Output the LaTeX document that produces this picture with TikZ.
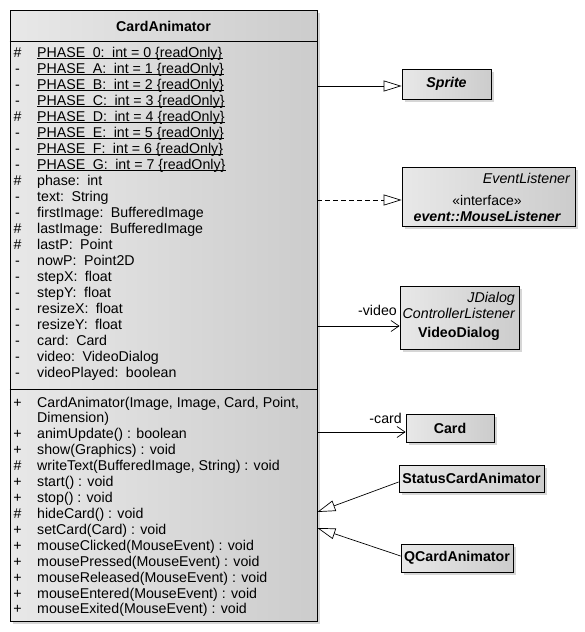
\documentclass[tikz,border=0pt]{standalone}
\usepackage{fontspec}
\setmainfont{Liberation Sans}
\usetikzlibrary{arrows.meta,shadows,calc}
\definecolor{boxL}{RGB}{232,232,232}
\definecolor{boxR}{RGB}{204,204,204}
\newcommand\sgap{\hspace{7.5pt}}
\begin{document}
\begin{tikzpicture}[x=1pt,y=-1pt,
  font=\fontsize{14.2}{16}\selectfont,
  txt/.style={inner sep=0pt, anchor=base west},
  vis/.style={inner sep=0pt, anchor=base},
  box/.style={draw=black, line width=0.8pt, left color=boxL, right color=boxR,
    drop shadow={shadow xshift=3pt, shadow yshift=-3pt, fill=black!16, opacity=1},
    inner sep=0pt},
  gen/.style={-{Triangle[open,length=18pt,width=11pt]}, line width=0.7pt},
  real/.style={gen, dashed, dash pattern=on 5pt off 3pt},
  assoc/.style={-{Straight Barb[length=8pt,width=11pt]}, line width=0.7pt},
  lbl/.style={inner sep=0pt, font=\fontsize{14.2}{16}\selectfont},
]
\useasboundingbox (0,0) rectangle (585,632);
% main class
\node[box, minimum width=307pt, minimum height=611pt] (main) at (163.5,315.5) {};
\coordinate (h1) at (0,41);
\coordinate (h2) at (0,389);
\draw[line width=0.8pt] (main.west |- h1) -- (main.east |- h1);
\draw[line width=0.8pt] (main.west |- h2) -- (main.east |- h2);
\node[inner sep=0pt, anchor=base, font=\fontsize{14.2}{16}\selectfont\bfseries] (title) at (163.5,31) {CardAnimator};
% attributes
\foreach \s/\t [count=\i from 0] in {
  {\#}/{PHASE\sgap 0:\sgap int = 0 \{readOnly\}},
  {-}/{PHASE\sgap A:\sgap int = 1 \{readOnly\}},
  {-}/{PHASE\sgap B:\sgap int = 2 \{readOnly\}},
  {-}/{PHASE\sgap C:\sgap int = 3 \{readOnly\}},
  {\#}/{PHASE\sgap D:\sgap int = 4 \{readOnly\}},
  {-}/{PHASE\sgap E:\sgap int = 5 \{readOnly\}},
  {-}/{PHASE\sgap F:\sgap int = 6 \{readOnly\}},
  {-}/{PHASE\sgap G:\sgap int = 7 \{readOnly\}},
  {\#}/{phase:\sgap int},
  {-}/{text:\sgap String},
  {-}/{firstImage:\sgap BufferedImage},
  {\#}/{lastImage:\sgap BufferedImage},
  {\#}/{lastP:\sgap Point},
  {-}/{nowP:\sgap Point2D},
  {-}/{stepX:\sgap float},
  {-}/{stepY:\sgap float},
  {-}/{resizeX:\sgap float},
  {-}/{resizeY:\sgap float},
  {-}/{card:\sgap Card},
  {-}/{video:\sgap VideoDialog},
  {-}/{videoPlayed:\sgap boolean}} {
  \node[vis] (av\i) at (17.5,57+16*\i) {\s};
  \node[txt] (a\i) at (37,57+16*\i) {\t};
}
\foreach \i in {0,...,7} {
  \draw[line width=0.7pt] ([yshift=-1.3pt]a\i.base west) -- ([yshift=-1.3pt]a\i.base east);
}
% methods
\foreach \s/\t [count=\i from 0] in {
  {+}/{CardAnimator(Image, Image, Card, Point,},
  {}/{Dimension)},
  {+}/{animUpdate() : boolean},
  {+}/{show(Graphics) : void},
  {\#}/{writeText(BufferedImage, String) : void},
  {+}/{start() : void},
  {+}/{stop() : void},
  {\#}/{hideCard() : void},
  {+}/{setCard(Card) : void},
  {+}/{mouseClicked(MouseEvent) : void},
  {+}/{mousePressed(MouseEvent) : void},
  {+}/{mouseReleased(MouseEvent) : void},
  {+}/{mouseEntered(MouseEvent) : void},
  {+}/{mouseExited(MouseEvent) : void}} {
  \node[vis] (mv\i) at (17.5,407+15.92*\i) {\s};
  \node[txt] (m\i) at (37,407+15.92*\i) {\t};
}
% other classes
\node[box, minimum width=89pt, minimum height=30pt] (sprite) at (446.5,84) {};
\node[inner sep=0pt, font=\fontsize{14.2}{16}\selectfont\bfseries\itshape] (spritet) at (sprite) {Sprite};

\node[box, minimum width=173pt, minimum height=59pt] (ml) at (488.5,196.5) {};
\node[inner sep=0pt, anchor=base east, font=\fontsize{14.2}{16}\selectfont\itshape] (mlst) at (570,183) {EventListener};
\node[inner sep=0pt, anchor=base, font=\fontsize{14}{16}\selectfont] (mlin) at (487,205.5) {«interface»};
\node[inner sep=0pt, anchor=base, font=\fontsize{14.2}{16}\selectfont\bfseries\itshape] (mlt) at (487,221) {event::MouseListener};

\node[box, minimum width=119pt, minimum height=63pt] (vd) at (459.5,317.5) {};
\node[inner sep=0pt, anchor=base east, font=\fontsize{14.2}{16}\selectfont\itshape] (vds1) at (515,302) {JDialog};
\node[inner sep=0pt, anchor=base east, font=\fontsize{14.2}{16}\selectfont\itshape] (vds2) at (515,318) {ControllerListener};
\node[inner sep=0pt, anchor=base, font=\fontsize{14.2}{16}\selectfont\bfseries] (vdt) at (459,337) {VideoDialog};

\node[box, minimum width=88pt, minimum height=28pt] (card) at (450,428) {};
\node[inner sep=0pt, font=\fontsize{14.2}{16}\selectfont\bfseries] (cardt) at (card) {Card};

\node[box, minimum width=145pt, minimum height=27pt] (sca) at (471.5,478.5) {};
\node[inner sep=0pt, font=\fontsize{14.2}{16}\selectfont\bfseries] (scat) at (sca) {StatusCardAnimator};

\node[box, minimum width=112pt, minimum height=28pt] (qca) at (457,558) {};
\node[inner sep=0pt, font=\fontsize{14.2}{16}\selectfont\bfseries] (qcat) at (qca) {QCardAnimator};

% connectors
\coordinate (y86) at (0,86);
\coordinate (y200) at (0,200);
\coordinate (y326) at (0,326);
\coordinate (y432) at (0,432);
\coordinate (y512) at (0,512);
\coordinate (y528) at (0,528);
\coordinate (y482) at (0,482);
\coordinate (y556) at (0,556);
\draw[gen] (main.east |- y86) -- (sprite.west |- y86);
\draw[real] (main.east |- y200) -- (ml.west |- y200);
\draw[assoc] (main.east |- y326) -- (vd.west |- y326);
\draw[assoc] (main.east |- y432) -- (card.west |- y432);
\draw[gen] (sca.west |- y482) -- (main.east |- y512);
\draw[gen] (qca.west |- y556) -- (main.east |- y528);
\node[lbl, anchor=base east] (lvideo) at (397,315) {-video};
\node[lbl, anchor=base east] (lcard) at (402,423) {-card};
\end{tikzpicture}
\end{document}
